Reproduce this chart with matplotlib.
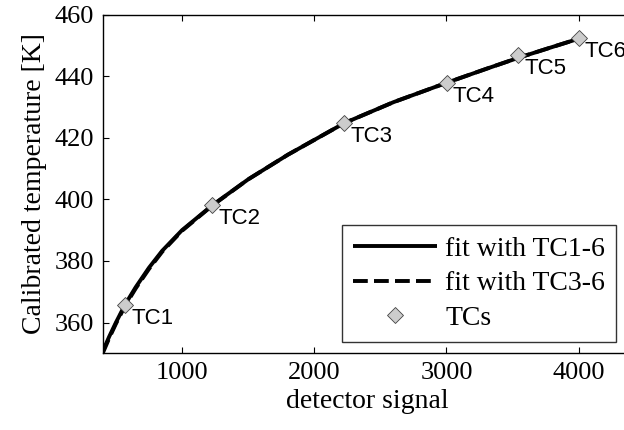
import matplotlib
matplotlib.use("Agg")
import matplotlib.pyplot as plt

# Thermocouple calibration points
tc_names = ["TC1", "TC2", "TC3", "TC4", "TC5", "TC6"]
tc_signal = [569, 1229, 2228, 3002, 3544, 4000]
tc_temp = [365.8, 398.1, 424.8, 437.9, 446.9, 452.3]

# Fit curves
fit_signal = [400, 450, 500, 569, 650, 750, 850, 1000, 1229, 1500, 1800,
              2228, 2600, 3002, 3300, 3544, 3800, 4000]
fit_all = [350.6, 355.5, 360.0, 365.8, 371.5, 377.8, 383.3, 390.0, 398.1,
           406.5, 414.5, 424.8, 431.6, 437.9, 442.4, 446.0, 449.5, 452.2]
fit_tc36 = [350.0, 355.0, 359.6, 365.4, 371.1, 377.4, 383.0, 389.8, 398.0,
            406.5, 414.5, 424.8, 431.6, 437.9, 442.4, 446.0, 449.5, 452.2]

serif = "Liberation Serif"
sans = "Liberation Sans"

fig = plt.figure(figsize=(6.24, 4.30), dpi=100)
W, H = 624, 430
left_px, right_px, top_px, bottom_px = 102.7, 631.6, 14.7, 353.3
ax = fig.add_axes([left_px / W, 1 - bottom_px / H,
                   (right_px - left_px) / W, (bottom_px - top_px) / H])

ax.plot(fit_signal, fit_all, color="black", lw=2.8, solid_capstyle="butt",
        label="fit with TC1-6")
ax.plot(fit_signal, fit_tc36, color="black", lw=2.8, ls=(0, (3.8, 1.6)),
        label="fit with TC3-6")
ax.plot(tc_signal, tc_temp, ls="none", marker="D", ms=8.5,
        mfc="#cccccc", mec="#444444", mew=0.6, label="TCs", zorder=5)

for name, x, y in zip(tc_names, tc_signal, tc_temp):
    ax.annotate(name, (x, y), xytext=(6, -3), textcoords="offset pixels",
                ha="left", va="top", fontsize=16, family=sans, zorder=6)

ax.set_xlim(400, 4400)
ax.set_ylim(350, 460)
ax.set_xticks([1000, 2000, 3000, 4000])
ax.set_yticks([360, 380, 400, 420, 440, 460])
ax.tick_params(direction="in", length=4, width=0.8, top=True, right=True,
               labelsize=19, pad=6)
for lab in ax.get_xticklabels() + ax.get_yticklabels():
    lab.set_family(serif)
for sp in ax.spines.values():
    sp.set_linewidth(1.0)

ax.set_xlabel("detector signal", fontsize=20, family=serif, labelpad=4)
ax.set_ylabel("Calibrated temperature [K]", fontsize=20, family=serif,
              labelpad=6)

leg = ax.legend(loc="lower right", bbox_to_anchor=(0.9705, 0.034),
                borderaxespad=0, prop={"family": serif, "size": 20},
                frameon=True, fancybox=False, edgecolor="black",
                handlelength=3.0, handletextpad=0.3, labelspacing=0.32,
                borderpad=0.4)
leg.get_frame().set_linewidth(1.0)

fig.savefig("out.png", dpi=100)
